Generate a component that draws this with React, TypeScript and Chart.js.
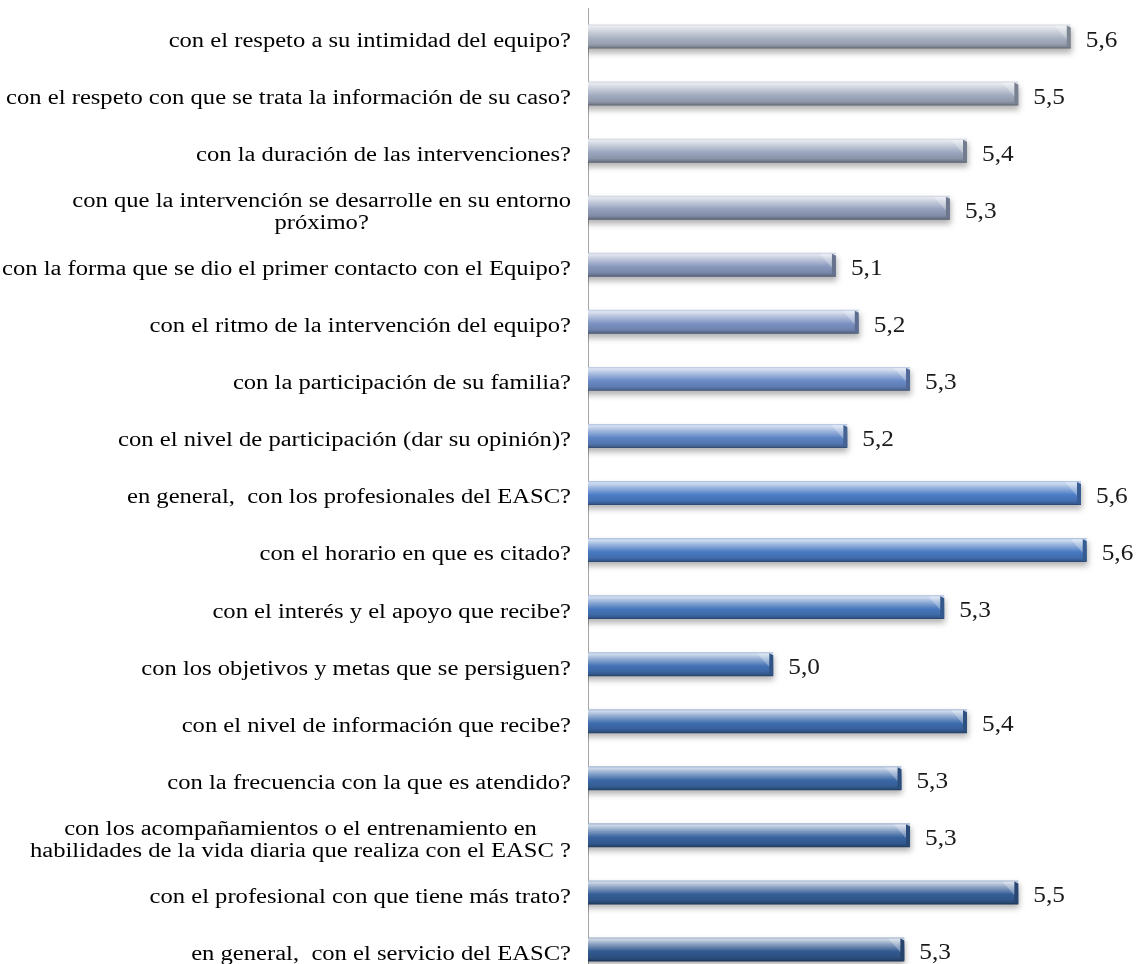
import { useEffect, useRef } from "react";
import { Chart, registerables } from "chart.js";

Chart.register(...registerables);

const categories: string[][] = [
  ["con el respeto a su intimidad del equipo?"],
  ["con el respeto con que se trata la información de su caso?"],
  ["con la duración de las intervenciones?"],
  ["con que la intervención se desarrolle en su entorno", "próximo?"],
  ["con la forma que se dio el primer contacto con el Equipo?"],
  ["con el ritmo de la intervención del equipo?"],
  ["con la participación de su familia?"],
  ["con el nivel de participación (dar su opinión)?"],
  ["en general,  con los profesionales del EASC?"],
  ["con el horario en que es citado?"],
  ["con el interés y el apoyo que recibe?"],
  ["con los objetivos y metas que se persiguen?"],
  ["con el nivel de información que recibe?"],
  ["con la frecuencia con la que es atendido?"],
  ["con los acompañamientos o el entrenamiento en", "habilidades de la vida diaria que realiza con el EASC ?"],
  ["con el profesional con que tiene más trato?"],
  ["en general,  con el servicio del EASC?"],
];

const values: number[] = [
  5.552, 5.46, 5.37, 5.34, 5.14, 5.18, 5.27, 5.16, 5.57, 5.58, 5.33, 5.03, 5.37, 5.255, 5.27, 5.46, 5.26,
];

const barColors: string[] = [
  "#a8b1c2", "#a1abbf", "#9aa6be", "#929fbc", "#8898bd", "#7b91c1", "#6a8ac7", "#5c83c4",
  "#4b7cc6", "#4879c1", "#4575bb", "#4271b4", "#3e6cad", "#3b68a6", "#38639f", "#355e97", "#325990",
];

const AXIS_MIN = 4.705;
const AXIS_MAX = 5.67;
const BAR_PCT = 0.42;
const TEXT_SX = 1.2;
const VALUE_SX = 1.1;
const LABEL_FONT = '20.5px "Liberation Serif", "Times New Roman", serif';
const VALUE_FONT = '23px "Liberation Serif", "Times New Roman", serif';

function hexToRgb(h: string): number[] {
  const n = parseInt(h.slice(1), 16);
  return [(n >> 16) & 255, (n >> 8) & 255, n & 255];
}
function mix(h: string, target: number[], t: number): string {
  const c = hexToRgb(h);
  const r = c.map((v, i) => Math.round(v + (target[i] - v) * t));
  return `rgb(${r[0]},${r[1]},${r[2]})`;
}
const WHITE = [255, 255, 255];
const BLACK = [0, 0, 0];

const barStylePlugin = {
  id: "barStyle",
  beforeDatasetsDraw(chart: any) {
    const ctx = chart.ctx;
    ctx.save();
    ctx.shadowColor = "rgba(0,0,0,0.30)";
    ctx.shadowBlur = 6;
    ctx.shadowOffsetY = 4;
    ctx.shadowOffsetX = 1;
  },
  afterDatasetsDraw(chart: any) {
    const ctx = chart.ctx;
    ctx.restore();
    const meta = chart.getDatasetMeta(0);
    meta.data.forEach((el: any, i: number) => {
      const { x, y, height } = el.getProps(["x", "y", "height"], true);
      const top = y - height / 2;
      const bot = y + height / 2;
      const base = barColors[i];
      // right bevel face
      ctx.beginPath();
      ctx.moveTo(x - 4, top + 1);
      ctx.lineTo(x, top + 3);
      ctx.lineTo(x, bot - 1);
      ctx.lineTo(x - 4, bot - 2);
      ctx.closePath();
      ctx.fillStyle = mix(base, BLACK, 0.25);
      ctx.fill();
      // light diagonal triangle
      ctx.beginPath();
      ctx.moveTo(x - 16, top + 1);
      ctx.lineTo(x - 4, top + 1);
      ctx.lineTo(x - 4, top + height * 0.62);
      ctx.closePath();
      ctx.fillStyle = "rgba(255,255,255,0.28)";
      ctx.fill();
      // left bevel triangle
      ctx.beginPath();
      ctx.moveTo(el.base + 1, top + 3);
      ctx.lineTo(el.base + 9, y);
      ctx.lineTo(el.base + 1, y + 2);
      ctx.closePath();
      ctx.fillStyle = "rgba(255,255,255,0.25)";
      ctx.fill();
      // value label
      ctx.save();
      ctx.font = VALUE_FONT;
      ctx.fillStyle = "#1a1a1a";
      ctx.textAlign = "left";
      ctx.textBaseline = "alphabetic";
      ctx.translate(x + 15, y + 10);
      ctx.scale(VALUE_SX, 1);
      ctx.fillText(values[i].toFixed(1).replace(".", ","), 0, 0);
      ctx.restore();
    });
  },
  afterDraw(chart: any) {
    const ctx = chart.ctx;
    const yScale = chart.scales.y;
    const right = chart.chartArea.left - 17;
    ctx.save();
    ctx.font = LABEL_FONT;
    ctx.fillStyle = "#000000";
    ctx.textAlign = "center";
    ctx.textBaseline = "middle";
    categories.forEach((lines, i) => {
      const cy = yScale.getPixelForTick(i) + 5;
      const widths = lines.map((l) => ctx.measureText(l).width * TEXT_SX);
      const maxW = Math.max(...widths);
      const cx = right - maxW / 2;
      const lh = 22;
      lines.forEach((l, j) => {
        const ly = cy + (j - (lines.length - 1) / 2) * lh;
        ctx.save();
        ctx.translate(cx, ly);
        ctx.scale(TEXT_SX, 1);
        ctx.fillText(l, 0, 0);
        ctx.restore();
      });
    });
    ctx.restore();
  },
};

export default function App() {
  const canvasRef = useRef<HTMLCanvasElement | null>(null);

  useEffect(() => {
    if (!canvasRef.current) return;
    const chart = new Chart(canvasRef.current, {
      type: "bar",
      data: {
        labels: categories.map((c) => c.join(" ")),
        datasets: [
          {
            data: values,
            backgroundColor: (c: any) => {
              const base = barColors[c.dataIndex] || "#4a7bc4";
              const ch = c.chart;
              const ys = ch.scales && ch.scales.y;
              if (!ch.chartArea || !ys) return base;
              const cat = ys.height / categories.length;
              const t = cat * BAR_PCT;
              const cy = ys.getPixelForTick(c.dataIndex);
              const top = cy - t / 2;
              const g = ch.ctx.createLinearGradient(0, top, 0, top + t);
              g.addColorStop(0, mix(base, WHITE, 0.5));
              g.addColorStop(0.08, mix(base, WHITE, 0.75));
              g.addColorStop(0.3, mix(base, WHITE, 0.4));
              g.addColorStop(0.58, base);
              g.addColorStop(0.82, mix(base, BLACK, 0.1));
              g.addColorStop(0.93, mix(base, BLACK, 0.25));
              g.addColorStop(1, mix(base, BLACK, 0.45));
              return g;
            },
            borderWidth: 0,
            barPercentage: BAR_PCT,
            categoryPercentage: 1,
          },
        ],
      },
      options: {
        indexAxis: "y",
        animation: false,
        responsive: true,
        maintainAspectRatio: false,
        layout: { padding: { left: 588, top: 8, right: 0, bottom: 0 } },
        plugins: { legend: { display: false }, tooltip: { enabled: false } },
        scales: {
          x: { type: "linear", min: AXIS_MIN, max: AXIS_MAX, display: false },
          y: {
            type: "category",
            grid: { display: false, drawTicks: false },
            ticks: { display: false },
            border: { display: true, color: "#a6a6a6", width: 1 },
            afterFit: (s: any) => {
              s.width = 0;
            },
          },
        },
      },
      plugins: [barStylePlugin],
    } as any);
    return () => chart.destroy();
  }, []);

  return (
    <div style={{ position: "absolute", left: 0, top: 0, width: 1138, height: 964, overflow: "hidden", background: "#ffffff" }}>
      <div style={{ position: "relative", width: 1138, height: 978 }}>
        <canvas ref={canvasRef} />
      </div>
    </div>
  );
}
